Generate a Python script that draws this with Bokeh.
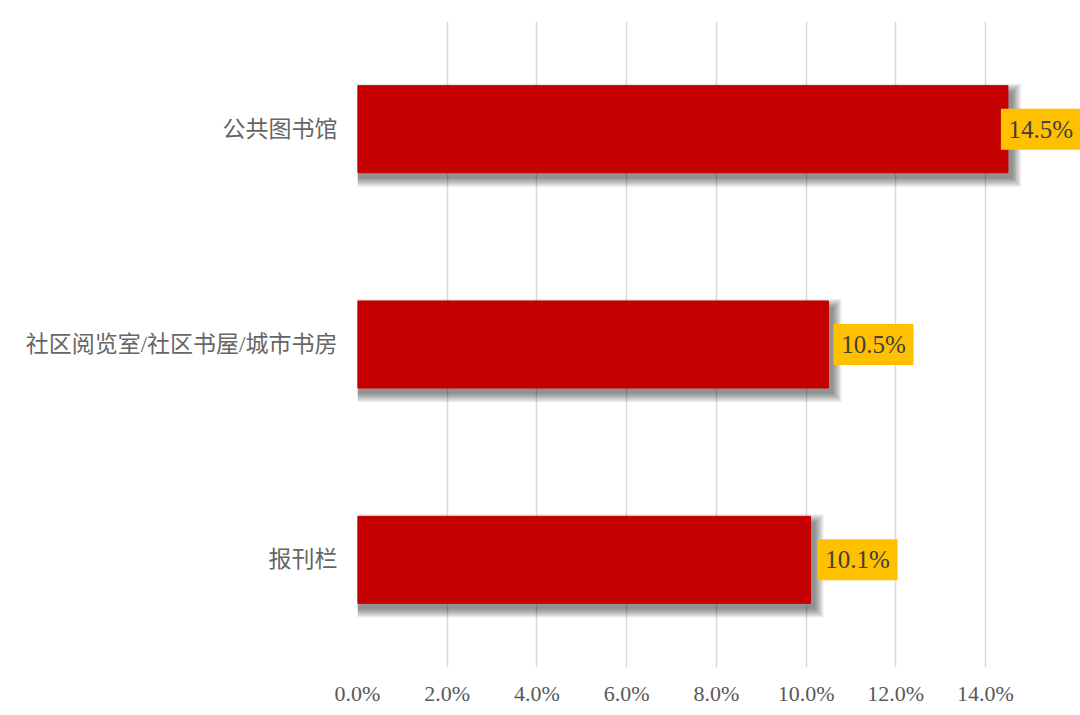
from bokeh.plotting import figure
from bokeh.models import ColumnDataSource, FactorRange, Range1d, FixedTicker, PrintfTickFormatter
from bokeh.transform import dodge
from bokeh.core.properties import value
from bokeh.embed import file_html
from bokeh.resources import INLINE

# ---- data ----
categories = ["公共图书馆", "社区阅览室/社区书屋/城市书房", "报刊栏"]
values = [14.5, 10.5, 10.1]
tick_values = [0, 2, 4, 6, 8, 10, 12, 14]

# ---- style ----
BAR = "#C40000"
LABEL_BG = "#FFC000"
FRAME_W, FRAME_H = 723, 646
PX = 715 / 15.94               # pixels per percent unit
X_END = FRAME_W / PX
CAT_PX = FRAME_H / 3
label_offsets_px = [33, 45, 47]  # centre of label box from bar end, in px
SERIF = "Liberation Serif, Noto Sans CJK SC"

src = ColumnDataSource(dict(
    cat=categories,
    v=values,
    lbl=[f"{v:.1f}%" for v in values],
    bx=[v + o / PX for v, o in zip(values, label_offsets_px)],
))

p = figure(
    y_range=FactorRange(factors=list(reversed(categories))),
    x_range=Range1d(0, X_END),
    frame_width=FRAME_W, frame_height=FRAME_H,
    min_border_left=357, min_border_right=0, min_border_top=21, min_border_bottom=40,
    output_backend="svg", toolbar_location=None,
)
p.outline_line_color = None
p.background_fill_color = "white"
p.border_fill_color = "white"

# grid
p.ygrid.grid_line_color = None
p.xgrid.grid_line_color = "#D9D9D9"
p.xgrid.grid_line_width = 1.5
p.xaxis.ticker = FixedTicker(ticks=tick_values)
p.xaxis.formatter = PrintfTickFormatter(format="%.1f%%")

# axes
for ax in (p.xaxis, p.yaxis):
    ax.axis_line_color = None
    ax.major_tick_line_color = None
    ax.minor_tick_line_color = None
    ax.major_label_text_color = "#595959"
p.xaxis.major_label_text_font = "Liberation Serif"
p.xaxis.major_label_text_font_size = "22px"
p.xaxis.major_label_standoff = 7
p.yaxis.major_label_text_font = SERIF
p.yaxis.major_label_text_font_size = "23px"
p.yaxis.major_label_text_color = "#666666"
p.yaxis.major_label_standoff = 14

# shadow (soft, offset down-right)
dy = 6 / CAT_PX
for i in range(6):
    grow = i * 1.6
    p.hbar(
        y=dodge("cat", -dy, range=p.y_range),
        left=0,
        right=dodge("v", (5 + grow) / PX, range=p.x_range),
        height=0.404 + 2 * grow / CAT_PX,
        source=src, fill_color="black", fill_alpha=0.085, line_color=None,
    )

# bars
p.hbar(y="cat", left=0, right="v", height=0.404, source=src,
       fill_color=BAR, line_color=BAR, line_width=1)

# label boxes
p.rect(x="bx", y="cat", width=80, width_units="screen", height=41, height_units="screen",
       source=src, fill_color=LABEL_BG, line_color=None)
p.text(x="bx", y="cat", text="lbl", source=src,
       text_align="center", text_baseline="middle",
       text_font=value("Liberation Serif"), text_font_size="25px", text_color="#404040")

open("out.html", "w").write(file_html(p, INLINE))
